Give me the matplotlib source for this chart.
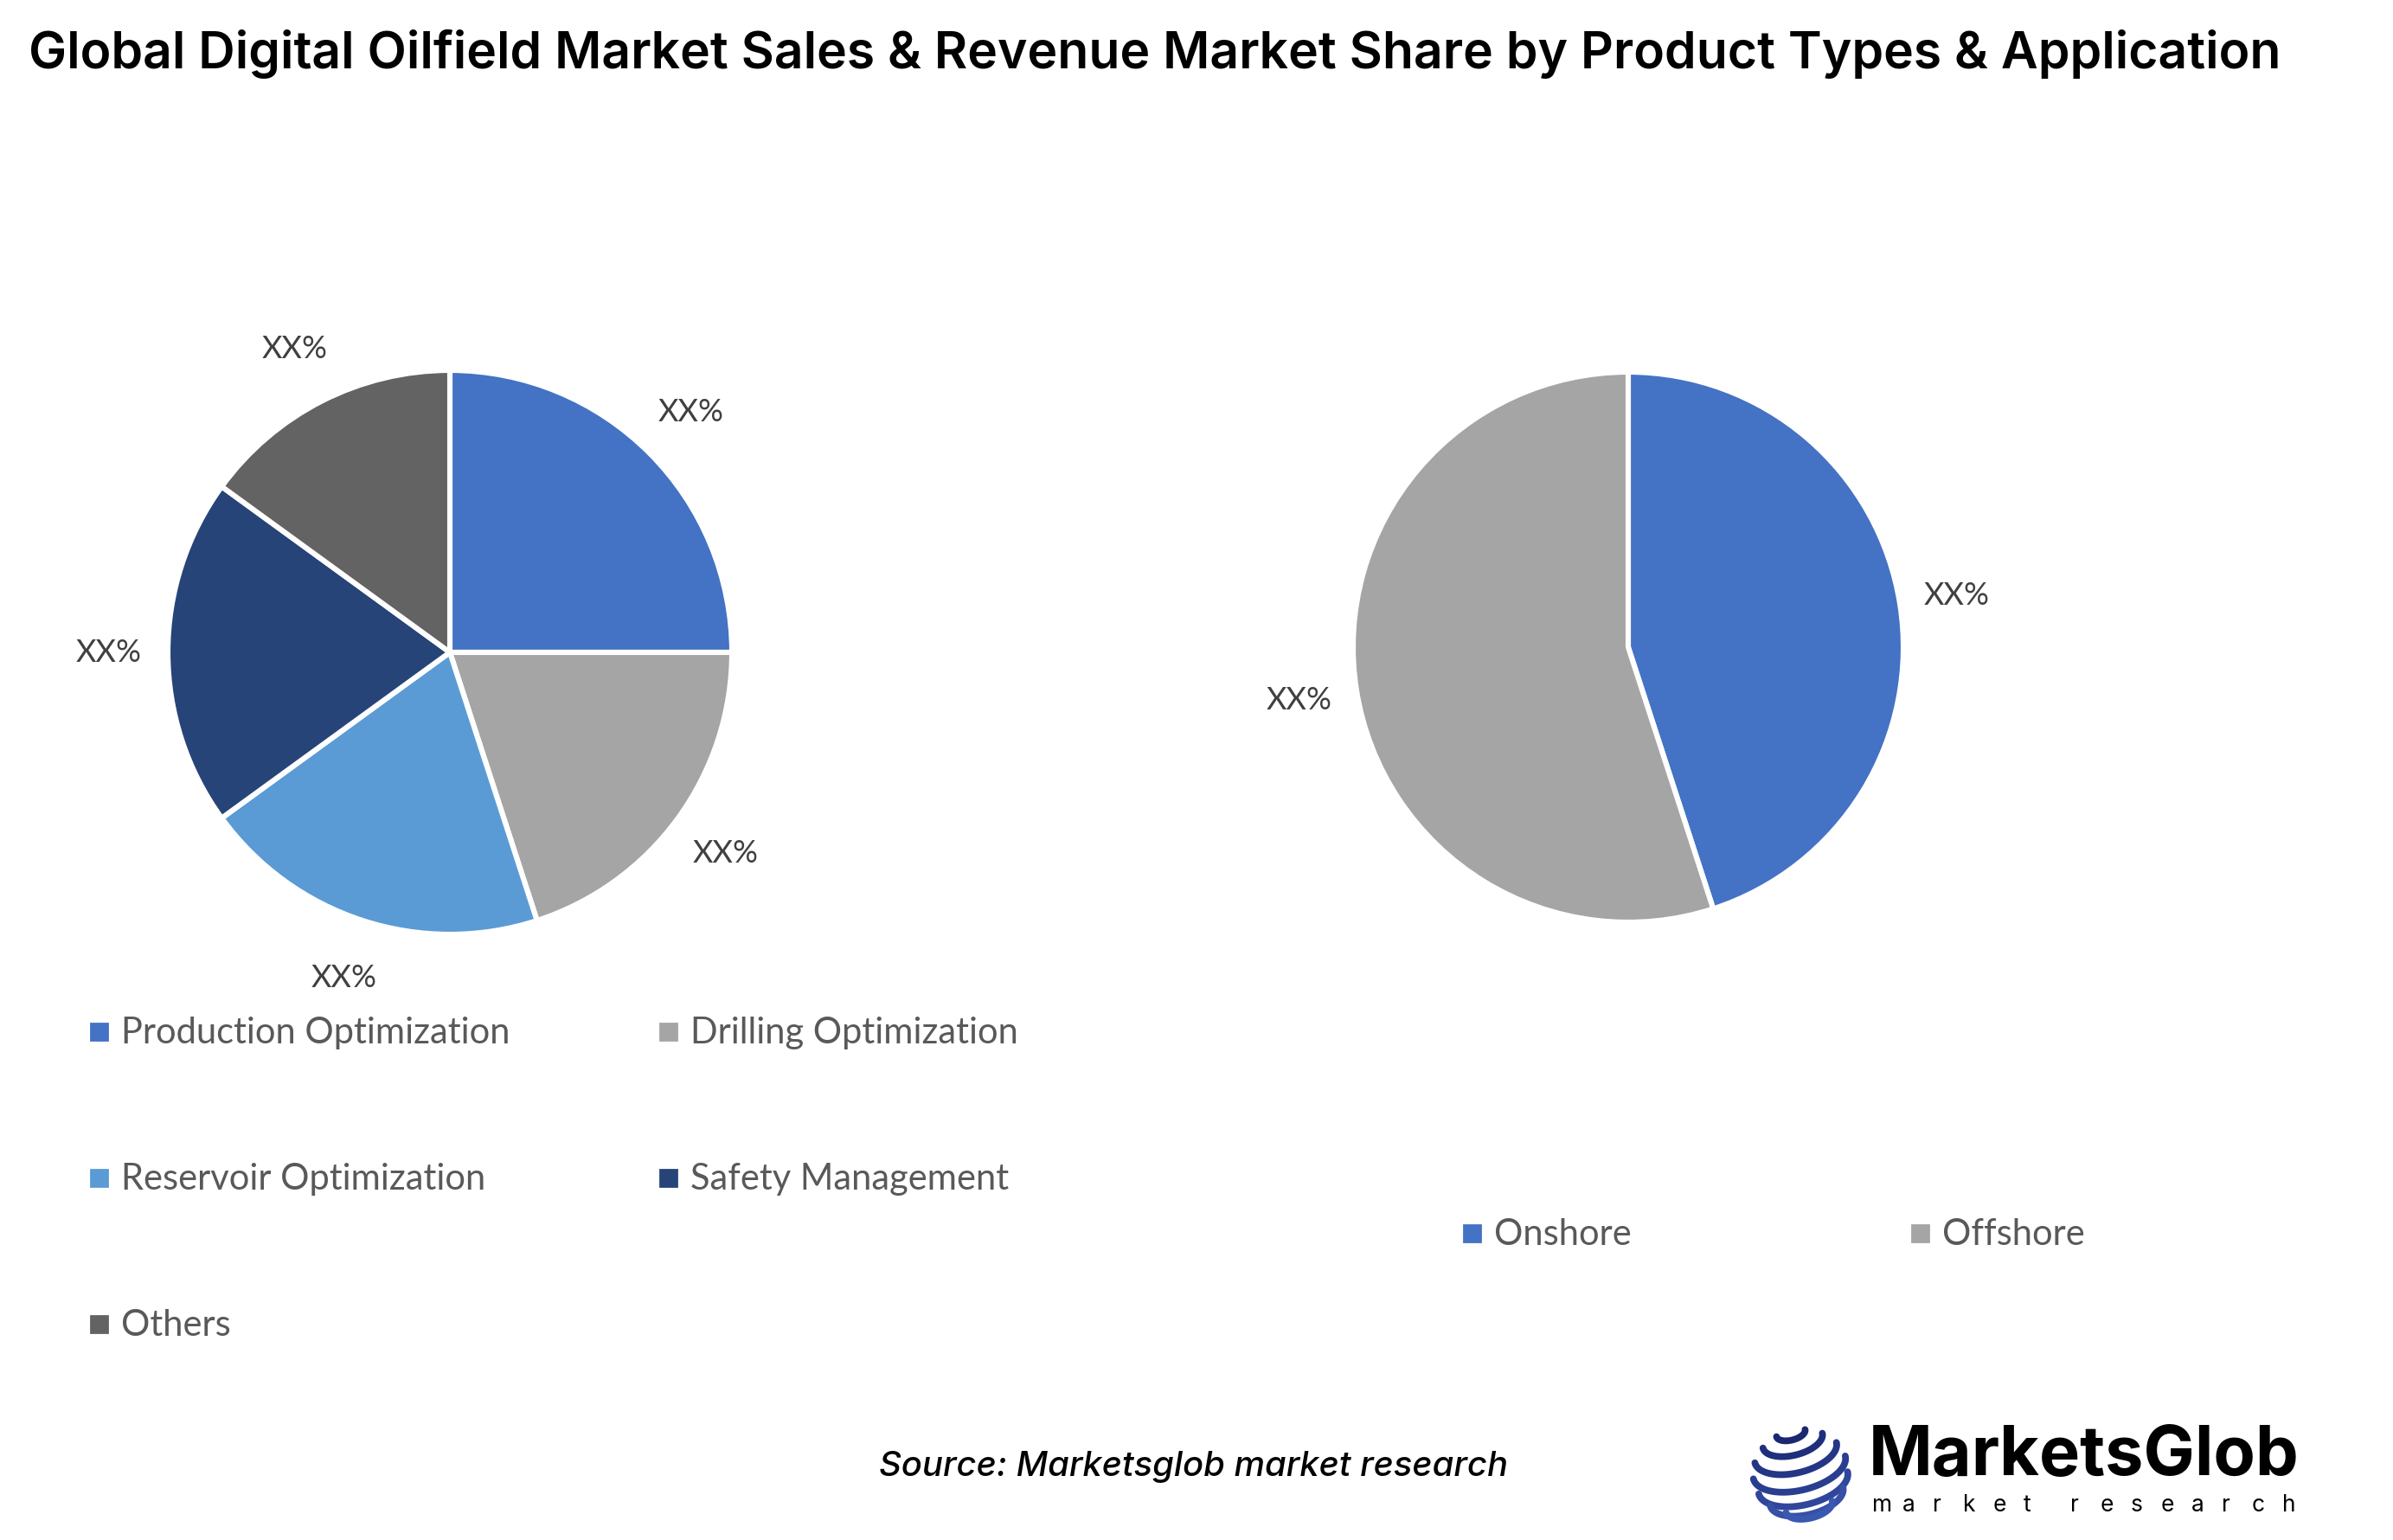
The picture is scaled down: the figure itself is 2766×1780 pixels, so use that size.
import matplotlib.pyplot as plt
import numpy as np
from matplotlib.patches import Rectangle

# data
TYPES = ["Production Optimization", "Drilling Optimization",
         "Reservoir Optimization", "Safety Management", "Others"]
TYPE_SHARE = [25, 20, 20, 20, 15]
TYPE_COLORS = ["#4472C4", "#A5A5A5", "#5B9BD5", "#264478", "#636363"]
APPS = ["Onshore", "Offshore"]
APP_SHARE = [45, 55]
APP_COLORS = ["#4472C4", "#A5A5A5"]
PCT_LABEL = "XX%"

TITLE = "Global Digital Oilfield Market Sales & Revenue Market Share by Product Types & Application"
SOURCE = "Source: Marketsglob market research"

W, H, DPI = 2766, 1781, 200
LAB_FONT = ["Lato", "DejaVu Sans"]
HEAD_FONT = ["Inter", "DejaVu Sans"]

plt.rcParams["font.family"] = LAB_FONT
fig = plt.figure(figsize=(W / DPI, H / DPI), dpi=DPI)
fig.patch.set_facecolor("white")


def pie_axes(cx, cy, r, lim=1.45):
    # cx, cy, r in pixels (y from top)
    half = r * lim
    return fig.add_axes([(cx - half) / W, 1 - (cy + half) / H, 2 * half / W, 2 * half / H])


def draw_pie(ax, values, colors):
    ax.pie(values, colors=colors, startangle=90, counterclock=False,
           labels=[PCT_LABEL] * len(values), labeldistance=1.21,
           wedgeprops=dict(edgecolor="white", linewidth=2.2),
           textprops=dict(color="#404040", fontsize=13, ha="center", va="center"))
    ax.set_xlim(-1.45, 1.45)
    ax.set_ylim(-1.45, 1.45)
    ax.set_aspect("equal")
    ax.axis("off")


ax1 = pie_axes(520, 755, 326)
draw_pie(ax1, TYPE_SHARE, TYPE_COLORS)
ax2 = pie_axes(1882, 749, 318)
draw_pie(ax2, APP_SHARE, APP_COLORS)


def legend_grid(names, colors, x0, y0, dx, dy, ncol):
    for i, (n, c) in enumerate(zip(names, colors)):
        x = x0 + (i % ncol) * dx
        y = y0 + (i // ncol) * dy
        fig.patches.append(Rectangle((x / W, 1 - (y + 9.5) / H), 19 / W, 19 / H,
                                     transform=fig.transFigure, color=c))
        fig.text((x + 35) / W, 1 - (y + 1) / H, n, fontsize=15, color="#595959",
                 ha="left", va="center")


legend_grid(TYPES, TYPE_COLORS, 105, 1193, 658, 169, 2)
legend_grid(APPS, APP_COLORS, 1692, 1426, 518, 0, 2)

fig.text(33 / W, 1 - 62 / H, TITLE, fontsize=21.2, fontweight="semibold",
         family=HEAD_FONT, color="black", ha="left", va="center")
fig.text(1379 / W, 1 - 1696 / H, SOURCE, fontsize=14.4, style="italic",
         fontweight="medium", family=HEAD_FONT, color="black", ha="center", va="center")

# logo: striped globe
lg = fig.add_axes([(2081 - 66) / W, 1 - (1702 + 66) / H, 132 / W, 132 / H])
lg.set_xlim(-1.2, 1.2)
lg.set_ylim(-1.2, 1.2)
lg.set_aspect("equal")
lg.axis("off")
elev, rot = 0.5, np.radians(14)
t = np.linspace(0, np.pi, 90)
lats = np.radians([72, 50, 28, 6, -16, -38, -60])
shades = ["#1b2870", "#1f2f7c", "#243685", "#2a3e90", "#30469b", "#3650a6", "#3b58b0"]
for lat, col in zip(lats, shades):
    rc, z = np.cos(lat), np.sin(lat)
    x = rc * np.cos(t)
    y = z * np.cos(elev) - rc * np.sin(t) * np.sin(elev)
    xr = x * np.cos(rot) - y * np.sin(rot)
    yr = x * np.sin(rot) + y * np.cos(rot)
    lg.plot(xr, yr, color=col, lw=2.8, solid_capstyle="round")

fig.text(2160 / W, 1 - 1684 / H, "MarketsGlob", fontsize=28.5, fontweight="bold",
         family=HEAD_FONT, color="black", ha="left", va="center")
sub_x = 2164
for ch in "market research":
    if ch == " ":
        sub_x += 19
        continue
    fig.text(sub_x / W, 1 - 1740 / H, ch, fontsize=9.5, family=HEAD_FONT,
             color="black", ha="left", va="center")
    sub_x += 35

fig.savefig("out.png", dpi=DPI, facecolor="white")
